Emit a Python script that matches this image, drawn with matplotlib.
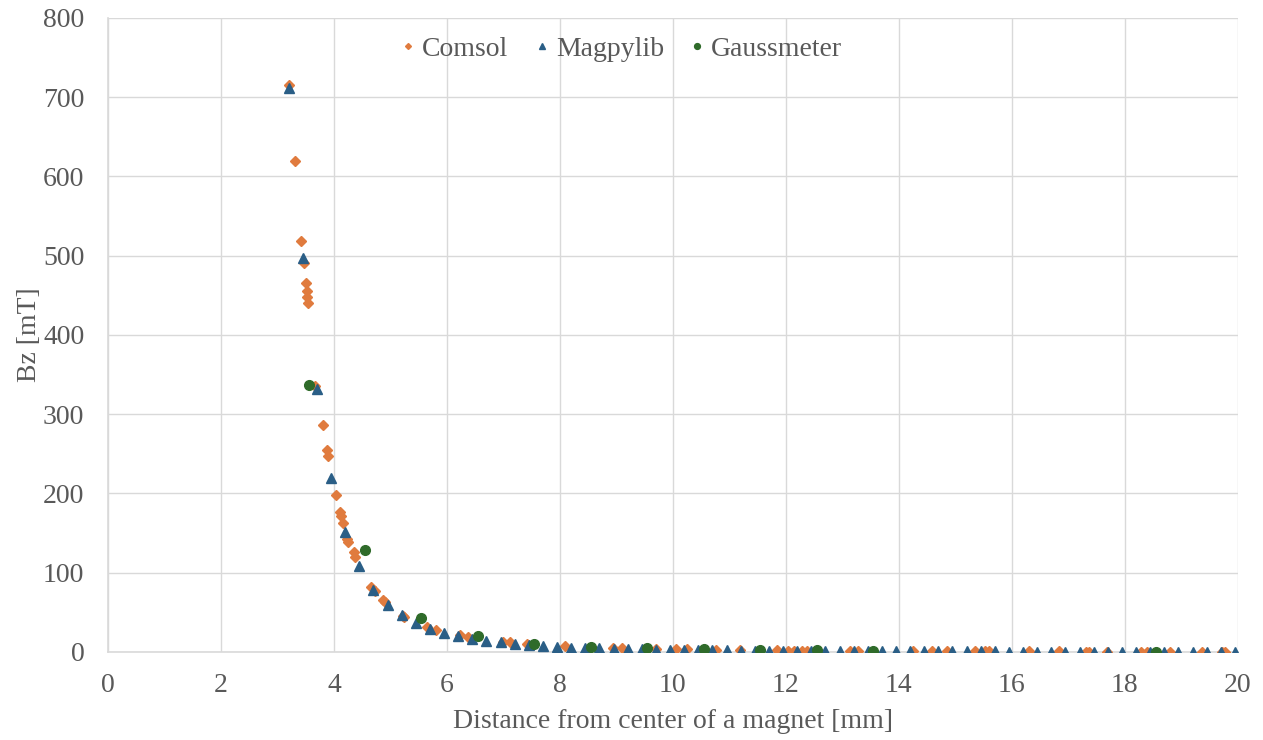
import matplotlib
matplotlib.use("Agg")
import matplotlib.pyplot as plt

# ---- data ----
comsol_x = [3.21, 3.31, 3.42, 3.47, 3.51, 3.53, 3.53, 3.54, 3.66, 3.80, 3.88, 3.90,
            4.03, 4.10, 4.12, 4.16, 4.24, 4.25, 4.35, 4.37, 4.66, 4.72, 4.87, 4.90,
            5.22, 5.24, 5.65, 5.80, 6.23, 6.37, 6.99, 7.12, 7.42, 8.09, 8.94, 9.10,
            9.70, 10.06, 10.25, 10.77, 11.19, 11.85, 12.03, 12.14, 12.29, 12.38,
            13.14, 13.28, 14.25, 14.59, 14.85, 15.35, 15.52, 15.59, 16.30, 16.83,
            17.31, 17.36, 17.69, 18.28, 18.39, 18.80, 19.37, 19.72, 19.77]
comsol_y = [715, 619, 518, 491, 465, 455, 448, 440, 335, 286, 255, 247,
            198, 177, 171, 163, 142, 139, 126, 120, 82, 77, 65, 63,
            45, 44, 32, 28, 21.5, 19.4, 13, 12, 10, 7, 5, 4.7,
            3.7, 3.3, 3.1, 2.6, 2.3, 1.9, 1.8, 1.7, 1.6, 1.6,
            1.3, 1.2, 1.0, 0.9, 0.9, 0.8, 0.7, 0.7, 0.6, 0.6,
            0.5, 0.5, 0.5, 0.4, 0.4, 0.4, 0.3, 0.3, 0.3]

magpy_x = [3.20, 3.45, 3.70, 3.95, 4.20, 4.45, 4.70, 4.95, 5.20, 5.45, 5.70, 5.95,
           6.20, 6.45, 6.70, 6.95, 7.20, 7.45, 7.70, 7.95, 8.20, 8.45, 8.70, 8.95,
           9.20, 9.45, 9.70, 9.95, 10.20, 10.45, 10.70, 10.95, 11.20, 11.45, 11.70,
           11.95, 12.20, 12.45, 12.70, 12.95, 13.20, 13.45, 13.70, 13.95, 14.20,
           14.45, 14.70, 14.95, 15.20, 15.45, 15.70, 15.95, 16.20, 16.45, 16.70,
           16.95, 17.20, 17.45, 17.70, 17.95, 18.20, 18.45, 18.70, 18.95, 19.20,
           19.45, 19.70, 19.95]
magpy_y = [712, 497, 332, 220, 151, 108, 78, 59, 46, 36, 29, 23.5,
           19.5, 16, 14, 12, 10, 8.5, 7, 6, 5.5, 5, 4.5, 4,
           3.6, 3.3, 3.0, 2.7, 2.5, 2.3, 2.1, 1.9, 1.8, 1.6, 1.5,
           1.4, 1.3, 1.2, 1.1, 1.0, 1.0, 0.9, 0.9, 0.8, 0.8,
           0.7, 0.7, 0.7, 0.6, 0.6, 0.6, 0.5, 0.5, 0.5, 0.5,
           0.4, 0.4, 0.4, 0.4, 0.4, 0.3, 0.3, 0.3, 0.3, 0.3,
           0.3, 0.3, 0.2]

gauss_x = [3.55, 4.55, 5.55, 6.55, 7.55, 8.55, 9.55, 10.55, 11.55, 12.55, 13.55, 18.55]
gauss_y = [337, 129, 42.5, 20, 10, 6.5, 4.5, 3.5, 2.5, 2.0, 1.5, 0.5]

x_ticks = [0, 2, 4, 6, 8, 10, 12, 14, 16, 18, 20]
y_ticks = [0, 100, 200, 300, 400, 500, 600, 700, 800]

# ---- style ----
plt.rcParams['font.family'] = ['Liberation Serif', 'DejaVu Serif']
text_col = '#595959'
grid_col = '#d9d9d9'
c_orange = '#E07B3E'
c_blue = '#2A5E86'
c_green = '#2F6B2A'
fs = 20

fig = plt.figure(figsize=(12.63, 7.40), dpi=100)
ax = fig.add_axes([0.0855, 0.119, 0.8945, 0.8567])

ax.plot(comsol_x, comsol_y, ls='none', marker='D', ms=5.0, color=c_orange,
        mec=c_orange, label='Comsol', zorder=3)
ax.plot(magpy_x, magpy_y, ls='none', marker='^', ms=7.0, color=c_blue,
        mec=c_blue, label='Magpylib', zorder=4)
ax.plot(gauss_x, gauss_y, ls='none', marker='o', ms=7.0, color=c_green,
        mec=c_green, label='Gaussmeter', zorder=5)

ax.set_xlim(0, 20)
ax.set_ylim(0, 800)
ax.set_xticks(x_ticks)
ax.set_yticks(y_ticks)
ax.grid(True, color=grid_col, lw=1.0)
ax.set_axisbelow(True)
for s in ['top', 'right']:
    ax.spines[s].set_visible(False)
for s in ['left', 'bottom']:
    ax.spines[s].set_color(grid_col)
    ax.spines[s].set_linewidth(1.2)
ax.tick_params(length=0, labelsize=fs, colors=text_col)
ax.tick_params(axis='x', pad=15)
ax.tick_params(axis='y', pad=17)

ax.set_xlabel('Distance from center of a magnet [mm]', fontsize=fs, color=text_col, labelpad=8)
ax.set_ylabel('Bz [mT]', fontsize=fs, color=text_col, labelpad=1)

leg = ax.legend(loc='center', bbox_to_anchor=(0.453, 0.951), ncol=3, frameon=False,
                fontsize=fs, markerscale=0.6, handletextpad=0.1, columnspacing=0.8,
                handlelength=0.8)
for t in leg.get_texts():
    t.set_color(text_col)

fig.savefig('out.png', dpi=100)
